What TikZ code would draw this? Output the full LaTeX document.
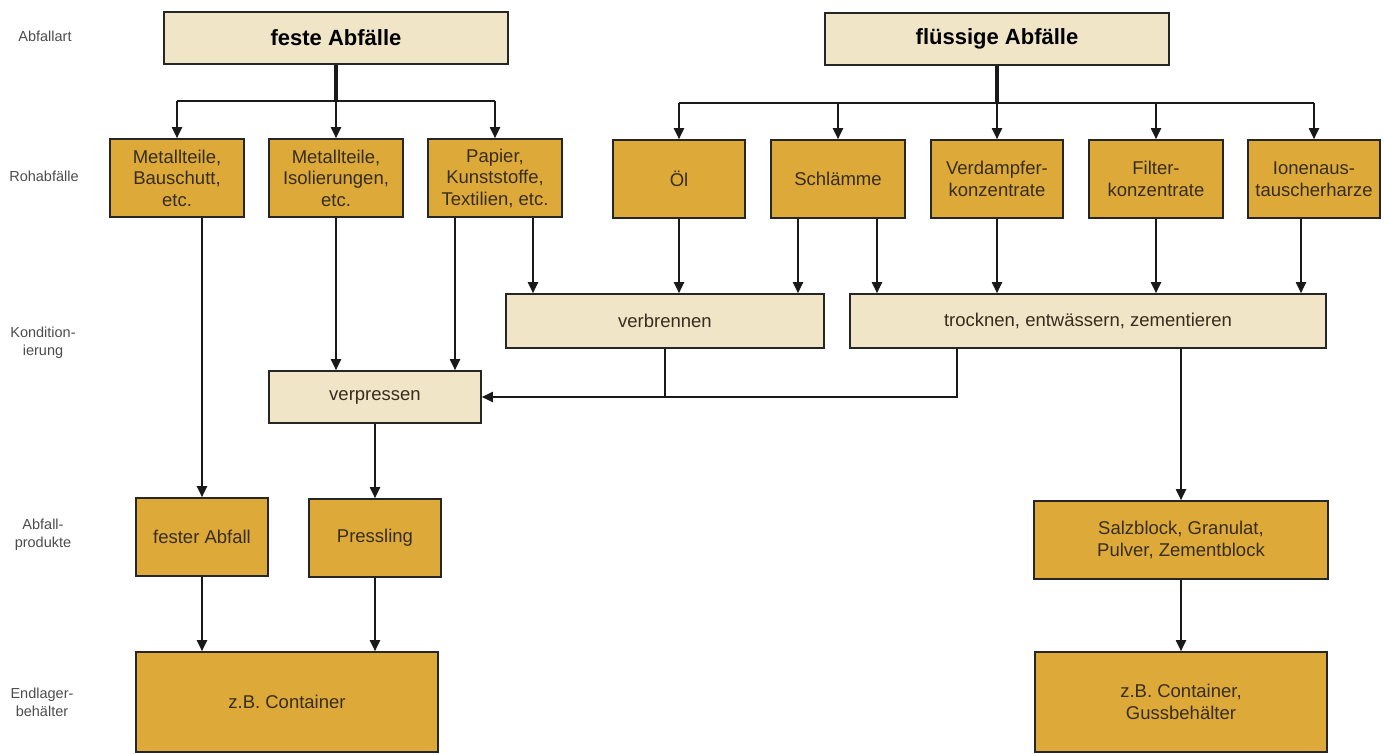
\documentclass[tikz,border=0pt]{standalone}
\usepackage{fontspec}
\setmainfont{Liberation Sans}
\usetikzlibrary{arrows.meta}
\definecolor{gold}{RGB}{221,170,58}
\definecolor{beige}{RGB}{240,229,198}
\definecolor{txt}{RGB}{55,45,30}
\begin{document}
\begin{tikzpicture}[x=1pt,y=1pt,
  gbox/.style={draw=black!85, line width=1.6pt, fill=gold, text=txt, align=center,
    font=\fontsize{18.5}{21.5}\selectfont, inner sep=0pt},
  bbox/.style={gbox, fill=beige},
  lab/.style={text=black!70, align=center, font=\fontsize{14.5}{18}\selectfont},
  arr/.style={line width=1.9pt, draw=black!90, -{Triangle[length=11pt,width=10pt]}},
  ln/.style={line width=1.9pt, draw=black!90},
  stem/.style={line width=3.6pt, draw=black!90}]
\useasboundingbox (0,0) rectangle (1385,-754);

% level labels
\node[lab] (l1) at (45,-36) {Abfallart};
\node[lab] (l2) at (44,-176) {Rohabfälle};
\node[lab] (l3) at (43,-343) {Kondition-\\ierung};
\node[lab] (l4) at (43,-535) {Abfall-\\produkte};
\node[lab] (l5) at (42,-702) {Endlager-\\behälter};

% top
\node[bbox, minimum width=344, minimum height=52, text=black, font=\bfseries\fontsize{22}{26}\selectfont] (fest) at (336,-38) {feste Abfälle};
\node[bbox, minimum width=344, minimum height=52, text=black, font=\bfseries\fontsize{22}{26}\selectfont] (flue) at (997,-39) {flüssige Abfälle};

% raw waste
\node[gbox, minimum width=134, minimum height=78] (r1) at (177,-178) {Metallteile,\\Bauschutt,\\etc.};
\node[gbox, minimum width=134, minimum height=78] (r2) at (336,-178) {Metallteile,\\Isolierungen,\\etc.};
\node[gbox, minimum width=134, minimum height=78] (r3) at (495,-178) {Papier,\\Kunststoffe,\\Textilien, etc.};
\node[gbox, minimum width=132, minimum height=78] (r4) at (679,-179) {Öl};
\node[gbox, minimum width=134, minimum height=78] (r5) at (838,-179) {Schlämme};
\node[gbox, minimum width=132, minimum height=78] (r6) at (997,-179) {Verdampfer-\\konzentrate};
\node[gbox, minimum width=134, minimum height=78] (r7) at (1156,-179) {Filter-\\konzentrate};
\node[gbox, minimum width=132, minimum height=78] (r8) at (1314,-179) {Ionenaus-\\tauscherharze};

% conditioning
\node[bbox, minimum width=318, minimum height=54] (verb) at (665,-321) {verbrennen};
\node[bbox, minimum width=476, minimum height=54] (troc) at (1088,-321) {trocknen, entwässern, zementieren};
\node[bbox, minimum width=212, minimum height=52] (verp) at (375,-397) {verpressen};

% products
\node[gbox, minimum width=132, minimum height=78] (fa) at (202,-537) {fester Abfall};
\node[gbox, minimum width=132, minimum height=78] (pr) at (375,-538) {Pressling};
\node[gbox, minimum width=294, minimum height=78] (salz) at (1181,-540) {Salzblock, Granulat,\\Pulver, Zementblock};

% containers
\node[gbox, minimum width=302, minimum height=100] (cont) at (287,-702) {z.B. Container};
\node[gbox, minimum width=292, minimum height=100] (guss) at (1181,-702) {z.B. Container,\\Gussbehälter};

% helper coordinates
\coordinate (fj) at (336,-101);
\coordinate (lj) at (997,-103);
\coordinate (x455) at (455,0);
\coordinate (x533) at (533,0);
\coordinate (x798) at (798,0);
\coordinate (x877) at (877,0);
\coordinate (x1301) at (1301,0);
\coordinate (x957) at (957,0);

% solid branch
\draw[ln] (fj -| r1) -- (fj -| r3);
\draw[stem] (fest.south) -- (fj);
\draw[arr] (fj -| r1) -- (r1.north);
\draw[arr] (fj -| r2) -- (r2.north);
\draw[arr] (fj -| r3) -- (r3.north);

% liquid branch
\draw[ln] (lj -| r4) -- (lj -| r8);
\draw[stem] (flue.south) -- (lj);
\draw[arr] (lj -| r4) -- (r4.north);
\draw[arr] (lj -| r5) -- (r5.north);
\draw[arr] (lj -| r6) -- (r6.north);
\draw[arr] (lj -| r7) -- (r7.north);
\draw[arr] (lj -| r8) -- (r8.north);

% raw -> conditioning
\draw[arr] (r1.south -| fa) -- (fa.north);
\draw[arr] (r2.south) -- (r2.south |- verp.north);
\draw[arr] (r3.south -| x455) -- (verp.north -| x455);
\draw[arr] (r3.south -| x533) -- (verb.north -| x533);
\draw[arr] (r4.south) -- (r4.south |- verb.north);
\draw[arr] (r5.south -| x798) -- (verb.north -| x798);
\draw[arr] (r5.south -| x877) -- (troc.north -| x877);
\draw[arr] (r6.south) -- (r6.south |- troc.north);
\draw[arr] (r7.south) -- (r7.south |- troc.north);
\draw[arr] (r8.south -| x1301) -- (troc.north -| x1301);

% conditioning -> verpressen
\draw[ln] (verb.south) -- (verb.south |- verp.east);
\draw[arr] (troc.south -| x957) |- (verp.east);

% to products
\draw[arr] (verp.south) -- (verp.south |- pr.north);
\draw[arr] (troc.south -| salz) -- (salz.north);

% to containers
\draw[arr] (fa.south) -- (fa.south |- cont.north);
\draw[arr] (pr.south) -- (pr.south |- cont.north);
\draw[arr] (salz.south) -- (salz.south |- guss.north);
\end{tikzpicture}
\end{document}
